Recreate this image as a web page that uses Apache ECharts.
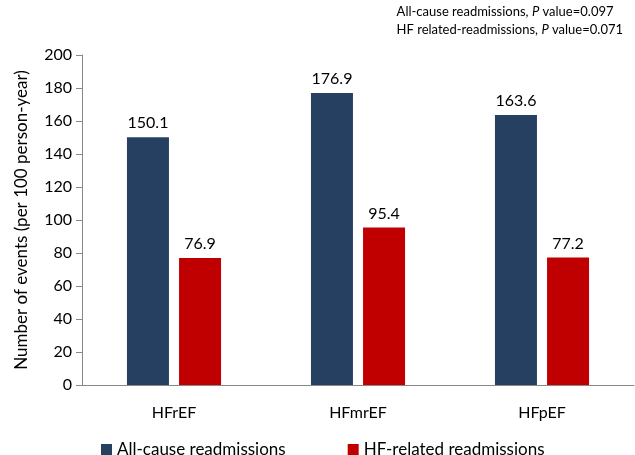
<!DOCTYPE html>
<html><head><meta charset="utf-8">
<script src="https://cdn.jsdelivr.net/npm/echarts@6/dist/echarts.min.js"></script>
<style>html,body{margin:0;padding:0;background:#fff}#c{width:635px;height:455px}</style>
</head><body><div id="c"></div>
<script>
const categories = ['HFrEF', 'HFmrEF', 'HFpEF'];
const allCause = [150.1, 176.9, 163.6];
const hfRelated = [76.9, 95.4, 77.2];
const seriesNames = ['All-cause readmissions', 'HF-related readmissions'];
const yTicks = {min: 0, max: 200, interval: 20};
const FONT = 'Lato';
const chart = echarts.init(document.getElementById('c'));
chart.setOption({
  animation: false,
  textStyle: {fontFamily: FONT},
  grid: {left: 82, right: 1, top: 55, bottom: 70, containLabel: false},
  graphic: [{
    type: 'text', right: 12, top: 3,
    style: {
      text: 'All-cause readmissions, {i|P} value=0.097\nHF related-readmissions, {i|P} value=0.071',
      font: '13px ' + FONT, fill: '#000', lineHeight: 18, align: 'right',
      rich: {i: {fontStyle: 'italic', fontSize: 13, fontFamily: FONT}}
    }
  }],
  legend: {
    top: 436, left: 96, itemGap: 62, itemWidth: 11, itemHeight: 11,
    icon: 'rect',
    textStyle: {fontSize: 17, color: '#000', fontFamily: FONT},
    data: seriesNames
  },
  xAxis: {
    type: 'category', data: categories,
    axisLine: {lineStyle: {color: '#888'}},
    axisTick: {show: false},
    axisLabel: {fontSize: 16, color: '#000', margin: 20}
  },
  yAxis: {
    type: 'value', min: yTicks.min, max: yTicks.max, interval: yTicks.interval,
    name: 'Number of events (per 100 person-year)', nameLocation: 'middle', nameGap: 52,
    nameTextStyle: {fontSize: 17, color: '#000'},
    axisLine: {show: true, lineStyle: {color: '#888'}},
    axisTick: {show: true, length: 6, lineStyle: {color: '#888'}},
    splitLine: {show: false},
    axisLabel: {fontSize: 16, color: '#000', margin: 10}
  },
  series: [
    {name: seriesNames[0], type: 'bar', data: allCause, barWidth: 42, barGap: '24%',
     itemStyle: {color: '#254061'},
     label: {show: true, position: 'top', fontSize: 16, color: '#000', distance: 6}},
    {name: seriesNames[1], type: 'bar', data: hfRelated, barWidth: 42,
     itemStyle: {color: '#C00000'},
     label: {show: true, position: 'top', fontSize: 16, color: '#000', distance: 6}}
  ]
});
</script></body></html>
